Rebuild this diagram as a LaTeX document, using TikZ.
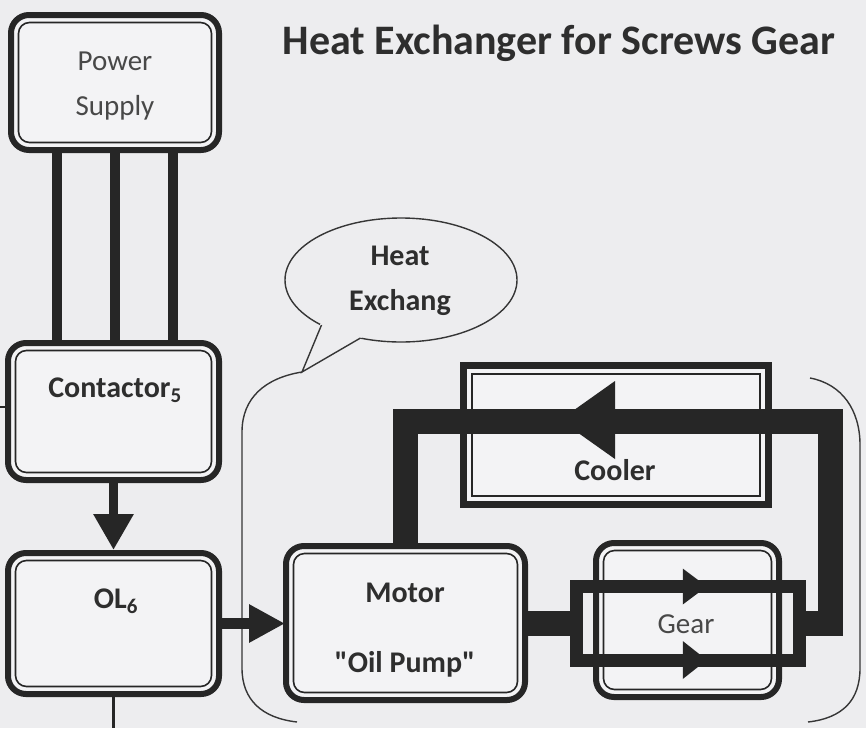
\documentclass[tikz,border=0pt]{standalone}
\usepackage{fontspec}
\setmainfont{Carlito}[Ligatures=TeXOff]
\usetikzlibrary{arrows.meta,shapes.geometric}
\definecolor{bg}{HTML}{EDEDEF}
\definecolor{boxfill}{HTML}{F3F3F5}
\definecolor{ink}{HTML}{262626}
\definecolor{txt}{HTML}{2E2E2E}
\definecolor{txtl}{HTML}{484848}
\definecolor{thinln}{HTML}{363636}
\newcommand\txtbold{\fontsize{30}{36}\selectfont\bfseries}
\newcommand\txtreg{\fontsize{29}{35}\selectfont}
\begin{document}
\begin{tikzpicture}[x=1pt,y=-1pt,
  dbox/.style={draw=ink, line width=6pt, rounded corners=18pt, fill=boxfill, inner sep=0pt, outer sep=0pt},
  cbox/.style={draw=ink, line width=7pt, fill=boxfill, inner sep=0pt, outer sep=0pt},
  innerln/.style={draw=ink, line width=1.6pt, rounded corners=11pt},
  pipeln/.style={draw=ink, line width=#1, line join=miter},
  wire/.style={draw=ink, line width=10pt},
  thin/.style={draw=thinln, line width=1.4pt},
  lbl/.style={anchor=base, text=txt, font=\txtbold, inner sep=0pt},
  lblr/.style={anchor=base, text=txtl, font=\txtreg, inner sep=0pt}
]
% canvas
\fill[bg] (0,0) rectangle (866,728);
\useasboundingbox (0,0) rectangle (866,728);

% boundary of the heat exchanger region
\draw[thin] (302,372) .. controls (265,378) and (242,398) .. (242,432)
  -- (242,668) .. controls (242,700) and (262,718) .. (297,722);
\draw[thin] (810,378) .. controls (842,384) and (860,410) .. (860,445)
  -- (860,668) .. controls (860,700) and (843,718) .. (808,722);

% speech bubble
\node[ellipse, thin, minimum width=232pt, minimum height=124pt, inner sep=0pt] (hb) at (401,280) {};
\fill[bg] (320.5,323.5) -- (302,372) -- (362,337.5) -- cycle;
\draw[thin] (321.5,325) -- (302,372) -- (360.5,338);

% boxes
\node[dbox, minimum width=208pt, minimum height=135pt] (ps) at (115,82.5) {};
\node[dbox, minimum width=211pt, minimum height=137pt] (ct) at (113.5,411.5) {};
\node[dbox, minimum width=211pt, minimum height=141pt] (ol) at (113.5,623.5) {};
\node[dbox, minimum width=239pt, minimum height=154pt] (mo) at (405.5,623) {};
\node[dbox, minimum width=183pt, minimum height=154pt] (ge) at (687.5,620) {};
\node[cbox, minimum width=305pt, minimum height=139pt] (co) at (616,435) {};
\foreach \n in {ps,ct,ol,mo,ge}
  \draw[innerln] ([shift={(7.5,7.5)}]\n.north west) rectangle ([shift={(-7.5,-7.5)}]\n.south east);
\draw[draw=ink, line width=1.6pt] ([shift={(8.5,8.5)}]co.north west) rectangle ([shift={(-8.5,-8.5)}]co.south east);

% gear pipe loop
\node[draw=ink, line width=13pt, inner sep=0pt, outer sep=0pt, minimum width=222.5pt, minimum height=73.5pt] (gp) at (687.75,623.25) {};

% power wires
\foreach \dx in {-58,0,58}
  \draw[wire] ([xshift=\dx pt]ps.south) -- ([xshift=\dx pt]ps.south |- ct.north);

% side lines
\coordinate (lft) at (0,407);
\draw[draw=ink, line width=2pt] (lft) -- (lft -| ct.west);
\coordinate (bot) at (115,728);
\draw[draw=ink, line width=3pt] (ol.south) -- (ol.south |- bot);

% arrows
\draw[draw=ink, line width=9pt, -{Triangle[length=36pt,width=38pt]}, shorten >=3pt] (ct.south) -- (ol.north);
\draw[draw=ink, line width=11pt, -{Triangle[length=36pt,width=36pt]}, shorten >=1pt] (ol.east) -- (ol.east -| mo.west);

% oil circuit
\draw[pipeln=25pt] (mo.east) -- (mo.east -| gp.west);
\coordinate (c1) at (830,421);
\draw[pipeln=25pt] (gp.east) -| (c1) -| (mo.north);
\fill[ink] (560,420) -- (615,381) -- (615,459) -- cycle;
\fill[ink] ([xshift=19pt]gp.north) -- ++(-24,-18) -- ++(0,36) -- cycle;
\fill[ink] ([xshift=19pt]gp.south) -- ++(-24,-19) -- ++(0,38) -- cycle;

% texts
\node[anchor=base, text=txt, font=\fontsize{42}{50}\selectfont\bfseries, inner sep=0pt] (title) at (559,54) {Heat Exchanger for Screws Gear};
\node[lblr] (t1) at (115,70) {Power};
\node[lblr] (t2) at (115,115) {Supply};
\node[lbl] (t3) at (115,397) {Contactor\textsubscript{5}};
\node[lbl] (t4) at (116,608) {OL\textsubscript{6}};
\node[lbl] (t5) at (405,602) {Motor};
\node[lbl] (t6) at (405,672) {"Oil Pump"};
\node[lbl] (t7) at (615,480) {Cooler};
\node[lblr] (t8) at (686,633) {Gear};
\node[lbl] (t9) at (400,265) {Heat};
\node[lbl] (t10) at (400,310) {Exchang};
\end{tikzpicture}
\end{document}
